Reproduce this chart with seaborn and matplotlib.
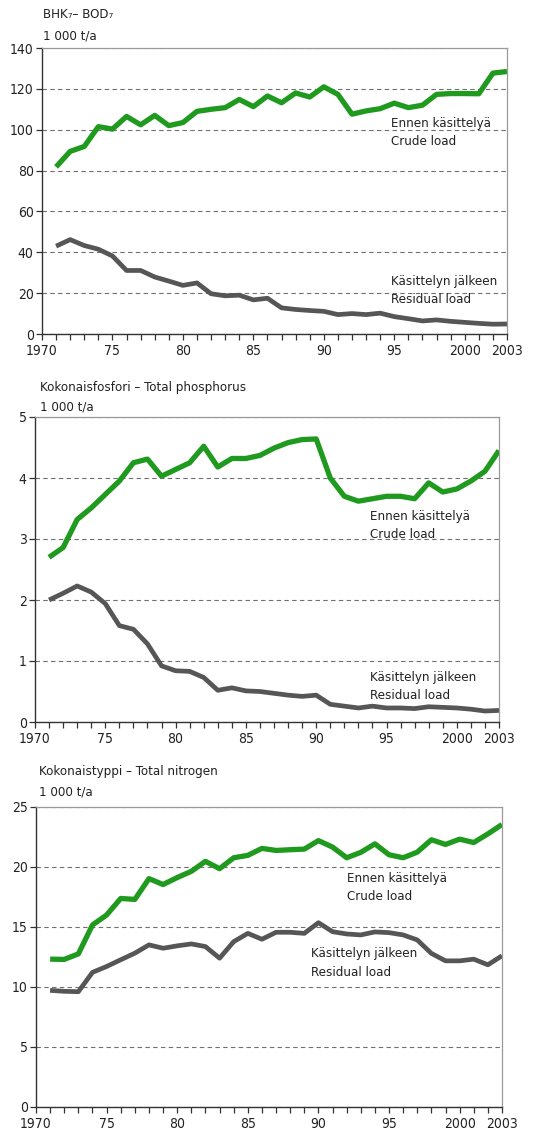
import numpy as np
import pandas as pd
import matplotlib.pyplot as plt
import seaborn as sns

# =====================================
# DATA (1 000 t/a)
# =====================================

years = list(range(1971, 2004))

bod_crude = [81.8, 89.4, 91.8, 101.5, 100.3, 106.5, 102.4, 107.0, 102.0, 103.5,
             109.0, 110.0, 110.8, 114.8, 111.3, 116.5, 113.2, 118.0, 116.0, 121.0,
             117.3, 107.6, 109.2, 110.3, 113.0, 110.8, 112.0, 117.3, 117.7, 117.7,
             117.6, 127.7, 128.5]
bod_residual = [43.0, 46.2, 43.3, 41.5, 38.2, 31.1, 31.1, 27.9, 25.9, 23.8,
                25.0, 19.7, 18.7, 19.0, 16.7, 17.5, 12.8, 12.0, 11.5, 11.1,
                9.5, 10.0, 9.5, 10.2, 8.5, 7.5, 6.4, 6.9, 6.2, 5.7,
                5.2, 4.8, 4.9]

p_crude = [2.70, 2.86, 3.32, 3.51, 3.73, 3.95, 4.25, 4.31, 4.03, 4.14,
           4.25, 4.52, 4.18, 4.32, 4.32, 4.37, 4.49, 4.58, 4.63, 4.64,
           4.00, 3.70, 3.62, 3.66, 3.70, 3.70, 3.66, 3.92, 3.77, 3.82,
           3.95, 4.11, 4.45]
p_residual = [2.00, 2.11, 2.23, 2.13, 1.94, 1.58, 1.52, 1.28, 0.92, 0.84,
              0.83, 0.73, 0.52, 0.56, 0.51, 0.50, 0.47, 0.44, 0.42, 0.44,
              0.29, 0.26, 0.23, 0.26, 0.23, 0.23, 0.22, 0.25, 0.24, 0.23,
              0.21, 0.18, 0.19]

n_crude = [12.32, 12.30, 12.76, 15.17, 16.00, 17.38, 17.30, 19.03, 18.54, 19.12,
           19.64, 20.47, 19.86, 20.77, 20.97, 21.55, 21.38, 21.44, 21.49, 22.20,
           21.66, 20.77, 21.22, 21.93, 21.02, 20.77, 21.24, 22.27, 21.88, 22.32,
           22.04, 22.76, 23.54]
n_residual = [9.72, 9.64, 9.61, 11.22, 11.71, 12.27, 12.82, 13.51, 13.23, 13.43,
              13.59, 13.37, 12.40, 13.78, 14.47, 13.98, 14.56, 14.56, 14.47, 15.36,
              14.61, 14.42, 14.34, 14.59, 14.53, 14.34, 13.92, 12.80, 12.18, 12.18,
              12.32, 11.85, 12.60]

titles = ["BHK\u2087\u2013 BOD\u2087",
          "Kokonaisfosfori \u2013 Total phosphorus",
          "Kokonaistyppi \u2013 Total nitrogen"]
unit_label = "1 000 t/a"
crude_label = "Ennen käsittelyä\nCrude load"
residual_label = "Käsittelyn jälkeen\nResidual load"

x_major = [1970, 1975, 1980, 1985, 1990, 1995, 2000, 2003]
x_labels = ["1970", "75", "80", "85", "90", "95", "2000", "2003"]

# =====================================
# STYLE
# =====================================

GREEN = "#1f9a1f"
GREY = "#565656"
W, H = 533, 1139

sns.set_style("ticks")
plt.rcParams["font.family"] = ["Liberation Sans Narrow", "DejaVu Sans"]
plt.rcParams["font.stretch"] = "condensed"
plt.rcParams["text.color"] = "#222222"

fig = plt.figure(figsize=(W / 100, H / 100), dpi=100)

# box = (left, top, right, bottom) in pixels; label positions in data coords
panels = [
    dict(box=(42, 48, 507, 334), ymax=140, yticks=range(0, 141, 20),
         title_xy=(43, 15), unit_xy=(43, 36),
         crude=bod_crude, residual=bod_residual,
         crude_pos=(1994.8, 98.4), residual_pos=(1994.8, 21.5)),
    dict(box=(35, 417, 499, 722), ymax=5, yticks=range(0, 6),
         title_xy=(40, 387), unit_xy=(40, 407),
         crude=p_crude, residual=p_residual,
         crude_pos=(1993.8, 3.22), residual_pos=(1993.8, 0.59)),
    dict(box=(36, 807, 502, 1107), ymax=25, yticks=range(0, 26, 5),
         title_xy=(39, 772), unit_xy=(39, 792),
         crude=n_crude, residual=n_residual,
         crude_pos=(1992.0, 18.3), residual_pos=(1989.5, 12.0)),
]

for title, p in zip(titles, panels):
    l, t, r, b = p["box"]
    ax = fig.add_axes([l / W, 1 - b / H, (r - l) / W, (b - t) / H])

    df = pd.DataFrame({"year": years, "crude": p["crude"], "residual": p["residual"]})

    sns.lineplot(data=df, x="year", y="residual", ax=ax, color=GREY,
                 linewidth=3.4, solid_joinstyle="round", solid_capstyle="butt")
    sns.lineplot(data=df, x="year", y="crude", ax=ax, color=GREEN,
                 linewidth=3.8, solid_joinstyle="round", solid_capstyle="butt")

    ax.set_xlim(1970, 2003)
    ax.set_ylim(0, p["ymax"])
    ax.set_xlabel("")
    ax.set_ylabel("")

    ax.set_xticks(x_major)
    ax.set_xticklabels(x_labels)
    ax.set_xticks(years, minor=True)
    ax.set_yticks(list(p["yticks"]))

    ax.tick_params(axis="both", which="both", direction="out", length=4,
                   width=0.9, color="#333333", labelsize=10, labelcolor="#222222")
    ax.tick_params(axis="x", pad=3)
    ax.tick_params(axis="y", pad=2)

    # dashed horizontal grid
    ax.set_axisbelow(True)
    ax.yaxis.grid(True, linestyle=(0, (4, 3)), linewidth=0.8, color="#707070")

    for side in ["left", "bottom"]:
        ax.spines[side].set_color("#333333")
        ax.spines[side].set_linewidth(1.0)
    for side in ["top", "right"]:
        ax.spines[side].set_visible(True)
        ax.spines[side].set_color("#9a9a9a")
        ax.spines[side].set_linewidth(0.9)

    ax.text(*p["crude_pos"], crude_label, fontsize=9.5, ha="left",
            va="center", linespacing=1.5)
    ax.text(*p["residual_pos"], residual_label, fontsize=9.5, ha="left",
            va="center", linespacing=1.5)

    fig.text(p["title_xy"][0] / W, 1 - p["title_xy"][1] / H, title,
             fontsize=9.5, ha="left", va="center")
    fig.text(p["unit_xy"][0] / W, 1 - p["unit_xy"][1] / H, unit_label,
             fontsize=9.5, ha="left", va="center")

fig.savefig("out.png", dpi=100)
